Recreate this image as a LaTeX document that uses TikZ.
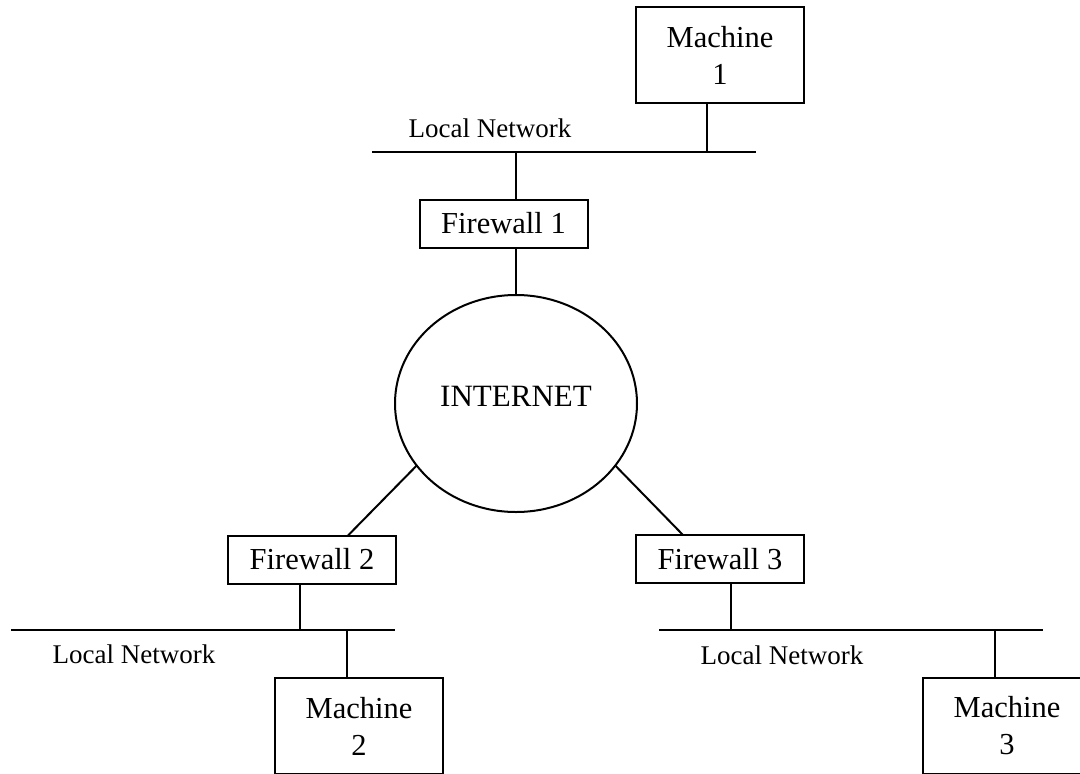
\documentclass[tikz,border=0pt]{standalone}
\usepackage{fontspec}
\setmainfont{Liberation Serif}
\usetikzlibrary{shapes.geometric}

\begin{document}
\begin{tikzpicture}[
        x=1pt, y=-1pt,
        line width=2pt,
        box/.style={draw, rectangle, inner sep=0pt, outer sep=0pt, align=center, font=\fontsize{30.5}{37}\selectfont},
        machine/.style={box, minimum width=168pt, minimum height=96pt},
        firewall/.style={box, minimum width=168pt, minimum height=48pt},
        netcloud/.style={draw, ellipse, inner sep=0pt, outer sep=0pt, minimum width=242pt, minimum height=217pt, text depth=15pt, font=\fontsize{31}{37}\selectfont},
        netlabel/.style={anchor=base, font=\fontsize{27}{32}\selectfont}
        ]
        \path[use as bounding box, clip] (0,0) rectangle (1080,774);

        % Nodes
        \node[machine] (mach1) at (720,55) {Machine\\1};
        \node[firewall] (fw1) at (503.5,223.5) {Firewall 1};
        \node[netcloud] (inet) at (516,403.5) {INTERNET};
        \node[firewall] (fw2) at (312,559.5) {Firewall 2};
        \node[firewall] (fw3) at (720,559) {Firewall 3};
        \node[machine] (mach2) at (359,726) {Machine\\2};
        \node[machine] (mach3) at (1007,726) {Machine\\3};

        % Local networks
        \coordinate (lan1w) at (372,152);
        \coordinate (lan1e) at (756,152);
        \coordinate (lan2w) at (11,630);
        \coordinate (lan2e) at (395,630);
        \coordinate (lan3w) at (659,630);
        \coordinate (lan3e) at (1043,630);
        \draw (lan1w) -- (lan1e);
        \draw (lan2w) -- (lan2e);
        \draw (lan3w) -- (lan3e);
        \node[netlabel] (lab1) at (490,137) {Local Network};
        \node[netlabel] (lab2) at (134,663) {Local Network};
        \node[netlabel] (lab3) at (782,664) {Local Network};

        % Links
        \draw ([xshift=-13pt]mach1.south) -- ([xshift=-13pt]mach1.south |- lan1e);
        \draw (lan1w -| inet.north) -- (fw1.north -| inet.north);
        \draw (fw1.south -| inet.north) -- (inet.north);
        \draw (inet.212) -- ([xshift=36pt]fw2.north);
        \draw (inet.328) -- ([xshift=-37pt]fw3.north);
        \draw ([xshift=-12pt]fw2.south) -- ([xshift=-12pt]fw2.south |- lan2w);
        \draw ([xshift=-12pt]mach2.north |- lan2w) -- ([xshift=-12pt]mach2.north);
        \draw ([xshift=11pt]fw3.south) -- ([xshift=11pt]fw3.south |- lan3w);
        \draw ([xshift=-12pt]mach3.north |- lan3w) -- ([xshift=-12pt]mach3.north);
    \end{tikzpicture}
\end{document}
